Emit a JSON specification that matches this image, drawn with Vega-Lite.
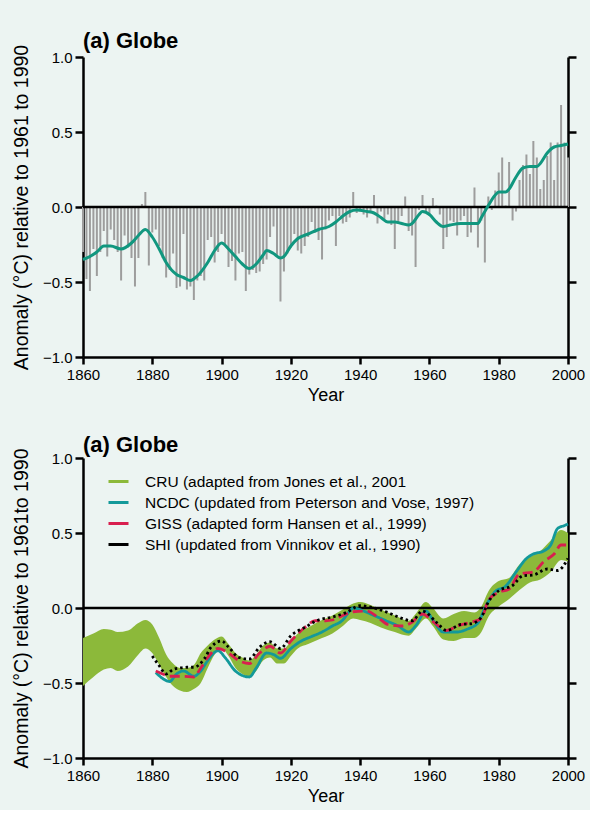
{
  "$schema": "https://vega.github.io/schema/vega-lite/v6.json",
  "background": "#ecf4f2",
  "padding": {"left": 11, "top": 30, "right": 5, "bottom": 5},
  "config": {
    "font": "Liberation Sans",
    "view": {"stroke": null},
    "axis": {
      "domainColor": "black", "domainWidth": 2.5, "tickColor": "black", "tickWidth": 2.5,
      "tickSize": 8, "labelColor": "black", "titleColor": "black", "grid": false,
      "labelFont": "Liberation Sans", "labelFontSize": 15, "titleFont": "Liberation Sans",
      "titleFontSize": 19.5, "titleFontWeight": "normal", "labelPadding": 3, "labelFlush": false
    },
    "title": {"font": "Liberation Sans", "fontSize": 22, "fontWeight": "bold", "anchor": "start", "color": "black", "frame": "group", "offset": -9},
    "concat": {"spacing": 30}
  },
  "resolve": {"scale": {"color": "independent"}, "legend": {"color": "independent"}},
  "datasets": {
    "bars": [
      {"year":1860,"anomaly":-0.30},{"year":1861,"anomaly":-0.48},{"year":1862,"anomaly":-0.56},{"year":1863,"anomaly":-0.28},{"year":1864,"anomaly":-0.46},
      {"year":1865,"anomaly":-0.30},{"year":1866,"anomaly":-0.16},{"year":1867,"anomaly":-0.33},{"year":1868,"anomaly":-0.15},{"year":1869,"anomaly":-0.22},
      {"year":1870,"anomaly":-0.30},{"year":1871,"anomaly":-0.49},{"year":1872,"anomaly":-0.19},{"year":1873,"anomaly":-0.27},{"year":1874,"anomaly":-0.34},
      {"year":1875,"anomaly":-0.53},{"year":1876,"anomaly":-0.34},{"year":1877,"anomaly":0.02},{"year":1878,"anomaly":0.10},{"year":1879,"anomaly":-0.39},
      {"year":1880,"anomaly":-0.17},{"year":1881,"anomaly":-0.15},{"year":1882,"anomaly":-0.26},{"year":1883,"anomaly":-0.34},{"year":1884,"anomaly":-0.47},
      {"year":1885,"anomaly":-0.42},{"year":1886,"anomaly":-0.31},{"year":1887,"anomaly":-0.54},{"year":1888,"anomaly":-0.53},{"year":1889,"anomaly":-0.18},
      {"year":1890,"anomaly":-0.55},{"year":1891,"anomaly":-0.53},{"year":1892,"anomaly":-0.62},{"year":1893,"anomaly":-0.49},{"year":1894,"anomaly":-0.46},
      {"year":1895,"anomaly":-0.49},{"year":1896,"anomaly":-0.22},{"year":1897,"anomaly":-0.20},{"year":1898,"anomaly":-0.37},{"year":1899,"anomaly":-0.30},
      {"year":1900,"anomaly":-0.18},{"year":1901,"anomaly":-0.26},{"year":1902,"anomaly":-0.40},{"year":1903,"anomaly":-0.36},{"year":1904,"anomaly":-0.49},
      {"year":1905,"anomaly":-0.31},{"year":1906,"anomaly":-0.30},{"year":1907,"anomaly":-0.56},{"year":1908,"anomaly":-0.45},{"year":1909,"anomaly":-0.42},
      {"year":1910,"anomaly":-0.44},{"year":1911,"anomaly":-0.43},{"year":1912,"anomaly":-0.38},{"year":1913,"anomaly":-0.35},{"year":1914,"anomaly":-0.20},
      {"year":1915,"anomaly":-0.13},{"year":1916,"anomaly":-0.33},{"year":1917,"anomaly":-0.63},{"year":1918,"anomaly":-0.43},{"year":1919,"anomaly":-0.31},
      {"year":1920,"anomaly":-0.27},{"year":1921,"anomaly":-0.18},{"year":1922,"anomaly":-0.29},{"year":1923,"anomaly":-0.31},{"year":1924,"anomaly":-0.26},
      {"year":1925,"anomaly":-0.20},{"year":1926,"anomaly":-0.10},{"year":1927,"anomaly":-0.17},{"year":1928,"anomaly":-0.22},{"year":1929,"anomaly":-0.35},
      {"year":1930,"anomaly":-0.15},{"year":1931,"anomaly":-0.09},{"year":1932,"anomaly":-0.06},{"year":1933,"anomaly":-0.26},{"year":1934,"anomaly":-0.06},
      {"year":1935,"anomaly":-0.11},{"year":1936,"anomaly":-0.10},{"year":1937,"anomaly":-0.07},{"year":1938,"anomaly":0.10},{"year":1939,"anomaly":-0.04},
      {"year":1940,"anomaly":-0.03},{"year":1941,"anomaly":-0.05},{"year":1942,"anomaly":-0.07},{"year":1943,"anomaly":-0.04},{"year":1944,"anomaly":0.08},
      {"year":1945,"anomaly":-0.11},{"year":1946,"anomaly":-0.03},{"year":1947,"anomaly":-0.08},{"year":1948,"anomaly":-0.05},{"year":1949,"anomaly":-0.12},
      {"year":1950,"anomaly":-0.28},{"year":1951,"anomaly":-0.10},{"year":1952,"anomaly":-0.06},{"year":1953,"anomaly":0.07},{"year":1954,"anomaly":-0.16},
      {"year":1955,"anomaly":-0.19},{"year":1956,"anomaly":-0.40},{"year":1957,"anomaly":-0.02},{"year":1958,"anomaly":0.08},{"year":1959,"anomaly":-0.04},
      {"year":1960,"anomaly":-0.06},{"year":1961,"anomaly":0.06},{"year":1962,"anomaly":0.01},{"year":1963,"anomaly":-0.05},{"year":1964,"anomaly":-0.28},
      {"year":1965,"anomaly":-0.20},{"year":1966,"anomaly":-0.09},{"year":1967,"anomaly":-0.10},{"year":1968,"anomaly":-0.19},{"year":1969,"anomaly":-0.09},
      {"year":1970,"anomaly":-0.06},{"year":1971,"anomaly":-0.20},{"year":1972,"anomaly":-0.17},{"year":1973,"anomaly":0.13},{"year":1974,"anomaly":-0.27},
      {"year":1975,"anomaly":-0.09},{"year":1976,"anomaly":-0.37},{"year":1977,"anomaly":0.07},{"year":1978,"anomaly":-0.02},{"year":1979,"anomaly":0.11},
      {"year":1980,"anomaly":0.23},{"year":1981,"anomaly":0.33},{"year":1982,"anomaly":0.01},{"year":1983,"anomaly":0.30},{"year":1984,"anomaly":-0.09},
      {"year":1985,"anomaly":-0.03},{"year":1986,"anomaly":0.18},{"year":1987,"anomaly":0.28},{"year":1988,"anomaly":0.35},{"year":1989,"anomaly":0.22},
      {"year":1990,"anomaly":0.44},{"year":1991,"anomaly":0.33},{"year":1992,"anomaly":0.12},{"year":1993,"anomaly":0.18},{"year":1994,"anomaly":0.34},
      {"year":1995,"anomaly":0.43},{"year":1996,"anomaly":0.18},{"year":1997,"anomaly":0.43},{"year":1998,"anomaly":0.68},{"year":1999,"anomaly":0.43},
      {"year":2000,"anomaly":0.33}
    ],
    "smooth": [
      {"year":1860,"value":-0.35},{"year":1862,"value":-0.33},{"year":1864,"value":-0.30},{"year":1866,"value":-0.26},{"year":1868,"value":-0.26},
      {"year":1871,"value":-0.28},{"year":1874,"value":-0.24},{"year":1876,"value":-0.19},{"year":1878,"value":-0.15},{"year":1880,"value":-0.20},
      {"year":1882,"value":-0.28},{"year":1884,"value":-0.37},{"year":1887,"value":-0.45},{"year":1889,"value":-0.47},{"year":1891,"value":-0.49},
      {"year":1893,"value":-0.46},{"year":1896,"value":-0.37},{"year":1898,"value":-0.29},{"year":1900,"value":-0.24},{"year":1902,"value":-0.28},
      {"year":1904,"value":-0.33},{"year":1906,"value":-0.38},{"year":1908,"value":-0.41},{"year":1910,"value":-0.38},{"year":1912,"value":-0.32},
      {"year":1913,"value":-0.29},{"year":1915,"value":-0.31},{"year":1917,"value":-0.34},{"year":1918,"value":-0.33},{"year":1920,"value":-0.26},
      {"year":1922,"value":-0.21},{"year":1925,"value":-0.18},{"year":1928,"value":-0.15},{"year":1931,"value":-0.13},{"year":1933,"value":-0.10},
      {"year":1935,"value":-0.06},{"year":1937,"value":-0.03},{"year":1939,"value":-0.02},{"year":1942,"value":-0.03},{"year":1944,"value":-0.04},
      {"year":1946,"value":-0.07},{"year":1948,"value":-0.10},{"year":1950,"value":-0.10},{"year":1952,"value":-0.11},{"year":1954,"value":-0.12},
      {"year":1955,"value":-0.11},{"year":1957,"value":-0.05},{"year":1958,"value":-0.03},{"year":1960,"value":-0.05},{"year":1962,"value":-0.10},
      {"year":1964,"value":-0.13},{"year":1966,"value":-0.12},{"year":1969,"value":-0.11},{"year":1972,"value":-0.11},{"year":1974,"value":-0.11},
      {"year":1975,"value":-0.07},{"year":1977,"value":0.01},{"year":1979,"value":0.08},{"year":1980,"value":0.10},{"year":1982,"value":0.10},
      {"year":1983,"value":0.12},{"year":1985,"value":0.20},{"year":1987,"value":0.26},{"year":1989,"value":0.27},{"year":1991,"value":0.27},
      {"year":1992,"value":0.29},{"year":1994,"value":0.36},{"year":1996,"value":0.40},{"year":1998,"value":0.41},{"year":2000,"value":0.42}
    ],
    "cru": [
      {"series":"CRU (adapted from Jones et al., 2001","year":1860,"lo":-0.52,"hi":-0.20},
      {"series":"CRU (adapted from Jones et al., 2001","year":1863,"lo":-0.46,"hi":-0.17},
      {"series":"CRU (adapted from Jones et al., 2001","year":1866,"lo":-0.41,"hi":-0.14},
      {"series":"CRU (adapted from Jones et al., 2001","year":1868,"lo":-0.40,"hi":-0.145},
      {"series":"CRU (adapted from Jones et al., 2001","year":1870,"lo":-0.42,"hi":-0.16},
      {"series":"CRU (adapted from Jones et al., 2001","year":1873,"lo":-0.39,"hi":-0.15},
      {"series":"CRU (adapted from Jones et al., 2001","year":1876,"lo":-0.31,"hi":-0.10},
      {"series":"CRU (adapted from Jones et al., 2001","year":1878,"lo":-0.27,"hi":-0.08},
      {"series":"CRU (adapted from Jones et al., 2001","year":1880,"lo":-0.30,"hi":-0.11},
      {"series":"CRU (adapted from Jones et al., 2001","year":1882,"lo":-0.38,"hi":-0.20},
      {"series":"CRU (adapted from Jones et al., 2001","year":1884,"lo":-0.46,"hi":-0.31},
      {"series":"CRU (adapted from Jones et al., 2001","year":1886,"lo":-0.52,"hi":-0.37},
      {"series":"CRU (adapted from Jones et al., 2001","year":1888,"lo":-0.55,"hi":-0.40},
      {"series":"CRU (adapted from Jones et al., 2001","year":1890,"lo":-0.56,"hi":-0.40},
      {"series":"CRU (adapted from Jones et al., 2001","year":1892,"lo":-0.54,"hi":-0.38},
      {"series":"CRU (adapted from Jones et al., 2001","year":1894,"lo":-0.50,"hi":-0.30},
      {"series":"CRU (adapted from Jones et al., 2001","year":1896,"lo":-0.40,"hi":-0.25},
      {"series":"CRU (adapted from Jones et al., 2001","year":1898,"lo":-0.31,"hi":-0.21},
      {"series":"CRU (adapted from Jones et al., 2001","year":1900,"lo":-0.27,"hi":-0.19},
      {"series":"CRU (adapted from Jones et al., 2001","year":1902,"lo":-0.32,"hi":-0.24},
      {"series":"CRU (adapted from Jones et al., 2001","year":1904,"lo":-0.40,"hi":-0.30},
      {"series":"CRU (adapted from Jones et al., 2001","year":1906,"lo":-0.44,"hi":-0.33},
      {"series":"CRU (adapted from Jones et al., 2001","year":1908,"lo":-0.46,"hi":-0.35},
      {"series":"CRU (adapted from Jones et al., 2001","year":1910,"lo":-0.42,"hi":-0.31},
      {"series":"CRU (adapted from Jones et al., 2001","year":1912,"lo":-0.35,"hi":-0.25},
      {"series":"CRU (adapted from Jones et al., 2001","year":1914,"lo":-0.33,"hi":-0.23},
      {"series":"CRU (adapted from Jones et al., 2001","year":1916,"lo":-0.37,"hi":-0.27},
      {"series":"CRU (adapted from Jones et al., 2001","year":1918,"lo":-0.37,"hi":-0.27},
      {"series":"CRU (adapted from Jones et al., 2001","year":1920,"lo":-0.32,"hi":-0.22},
      {"series":"CRU (adapted from Jones et al., 2001","year":1922,"lo":-0.27,"hi":-0.17},
      {"series":"CRU (adapted from Jones et al., 2001","year":1925,"lo":-0.24,"hi":-0.13},
      {"series":"CRU (adapted from Jones et al., 2001","year":1928,"lo":-0.21,"hi":-0.09},
      {"series":"CRU (adapted from Jones et al., 2001","year":1932,"lo":-0.17,"hi":-0.05},
      {"series":"CRU (adapted from Jones et al., 2001","year":1935,"lo":-0.12,"hi":-0.01},
      {"series":"CRU (adapted from Jones et al., 2001","year":1938,"lo":-0.07,"hi":0.03},
      {"series":"CRU (adapted from Jones et al., 2001","year":1940,"lo":-0.08,"hi":0.04},
      {"series":"CRU (adapted from Jones et al., 2001","year":1943,"lo":-0.10,"hi":0.02},
      {"series":"CRU (adapted from Jones et al., 2001","year":1946,"lo":-0.13,"hi":-0.01},
      {"series":"CRU (adapted from Jones et al., 2001","year":1950,"lo":-0.16,"hi":-0.05},
      {"series":"CRU (adapted from Jones et al., 2001","year":1954,"lo":-0.185,"hi":-0.085},
      {"series":"CRU (adapted from Jones et al., 2001","year":1956,"lo":-0.14,"hi":-0.04},
      {"series":"CRU (adapted from Jones et al., 2001","year":1959,"lo":-0.07,"hi":0.04},
      {"series":"CRU (adapted from Jones et al., 2001","year":1961,"lo":-0.12,"hi":0.00},
      {"series":"CRU (adapted from Jones et al., 2001","year":1964,"lo":-0.21,"hi":-0.07},
      {"series":"CRU (adapted from Jones et al., 2001","year":1967,"lo":-0.22,"hi":-0.04},
      {"series":"CRU (adapted from Jones et al., 2001","year":1970,"lo":-0.20,"hi":-0.02},
      {"series":"CRU (adapted from Jones et al., 2001","year":1973,"lo":-0.20,"hi":-0.03},
      {"series":"CRU (adapted from Jones et al., 2001","year":1975,"lo":-0.16,"hi":0.01},
      {"series":"CRU (adapted from Jones et al., 2001","year":1977,"lo":-0.06,"hi":0.11},
      {"series":"CRU (adapted from Jones et al., 2001","year":1980,"lo":0.01,"hi":0.18},
      {"series":"CRU (adapted from Jones et al., 2001","year":1983,"lo":0.06,"hi":0.20},
      {"series":"CRU (adapted from Jones et al., 2001","year":1986,"lo":0.12,"hi":0.29},
      {"series":"CRU (adapted from Jones et al., 2001","year":1989,"lo":0.17,"hi":0.34},
      {"series":"CRU (adapted from Jones et al., 2001","year":1992,"lo":0.19,"hi":0.38},
      {"series":"CRU (adapted from Jones et al., 2001","year":1995,"lo":0.24,"hi":0.45},
      {"series":"CRU (adapted from Jones et al., 2001","year":1998,"lo":0.32,"hi":0.52},
      {"series":"CRU (adapted from Jones et al., 2001","year":2000,"lo":0.31,"hi":0.50}
    ],
    "lines": [
      {"series":"NCDC (updated from Peterson and Vose, 1997)","year":1881,"value":-0.43},
      {"series":"NCDC (updated from Peterson and Vose, 1997)","year":1883,"value":-0.47},
      {"series":"NCDC (updated from Peterson and Vose, 1997)","year":1885,"value":-0.49},
      {"series":"NCDC (updated from Peterson and Vose, 1997)","year":1887,"value":-0.44},
      {"series":"NCDC (updated from Peterson and Vose, 1997)","year":1889,"value":-0.42},
      {"series":"NCDC (updated from Peterson and Vose, 1997)","year":1892,"value":-0.455},
      {"series":"NCDC (updated from Peterson and Vose, 1997)","year":1894,"value":-0.42},
      {"series":"NCDC (updated from Peterson and Vose, 1997)","year":1896,"value":-0.35},
      {"series":"NCDC (updated from Peterson and Vose, 1997)","year":1899,"value":-0.285},
      {"series":"NCDC (updated from Peterson and Vose, 1997)","year":1901,"value":-0.33},
      {"series":"NCDC (updated from Peterson and Vose, 1997)","year":1904,"value":-0.42},
      {"series":"NCDC (updated from Peterson and Vose, 1997)","year":1906,"value":-0.45},
      {"series":"NCDC (updated from Peterson and Vose, 1997)","year":1908,"value":-0.46},
      {"series":"NCDC (updated from Peterson and Vose, 1997)","year":1910,"value":-0.40},
      {"series":"NCDC (updated from Peterson and Vose, 1997)","year":1913,"value":-0.30},
      {"series":"NCDC (updated from Peterson and Vose, 1997)","year":1915,"value":-0.31},
      {"series":"NCDC (updated from Peterson and Vose, 1997)","year":1917,"value":-0.335},
      {"series":"NCDC (updated from Peterson and Vose, 1997)","year":1920,"value":-0.27},
      {"series":"NCDC (updated from Peterson and Vose, 1997)","year":1923,"value":-0.22},
      {"series":"NCDC (updated from Peterson and Vose, 1997)","year":1926,"value":-0.19},
      {"series":"NCDC (updated from Peterson and Vose, 1997)","year":1929,"value":-0.16},
      {"series":"NCDC (updated from Peterson and Vose, 1997)","year":1932,"value":-0.12},
      {"series":"NCDC (updated from Peterson and Vose, 1997)","year":1935,"value":-0.08},
      {"series":"NCDC (updated from Peterson and Vose, 1997)","year":1937,"value":-0.02},
      {"series":"NCDC (updated from Peterson and Vose, 1997)","year":1938,"value":0.0},
      {"series":"NCDC (updated from Peterson and Vose, 1997)","year":1941,"value":-0.02},
      {"series":"NCDC (updated from Peterson and Vose, 1997)","year":1944,"value":-0.05},
      {"series":"NCDC (updated from Peterson and Vose, 1997)","year":1947,"value":-0.08},
      {"series":"NCDC (updated from Peterson and Vose, 1997)","year":1951,"value":-0.12},
      {"series":"NCDC (updated from Peterson and Vose, 1997)","year":1954,"value":-0.16},
      {"series":"NCDC (updated from Peterson and Vose, 1997)","year":1956,"value":-0.12},
      {"series":"NCDC (updated from Peterson and Vose, 1997)","year":1959,"value":-0.02},
      {"series":"NCDC (updated from Peterson and Vose, 1997)","year":1961,"value":-0.08},
      {"series":"NCDC (updated from Peterson and Vose, 1997)","year":1964,"value":-0.16},
      {"series":"NCDC (updated from Peterson and Vose, 1997)","year":1968,"value":-0.16},
      {"series":"NCDC (updated from Peterson and Vose, 1997)","year":1971,"value":-0.14},
      {"series":"NCDC (updated from Peterson and Vose, 1997)","year":1974,"value":-0.10},
      {"series":"NCDC (updated from Peterson and Vose, 1997)","year":1976,"value":0.0},
      {"series":"NCDC (updated from Peterson and Vose, 1997)","year":1979,"value":0.11},
      {"series":"NCDC (updated from Peterson and Vose, 1997)","year":1982,"value":0.145},
      {"series":"NCDC (updated from Peterson and Vose, 1997)","year":1985,"value":0.24},
      {"series":"NCDC (updated from Peterson and Vose, 1997)","year":1988,"value":0.33},
      {"series":"NCDC (updated from Peterson and Vose, 1997)","year":1990,"value":0.36},
      {"series":"NCDC (updated from Peterson and Vose, 1997)","year":1993,"value":0.38},
      {"series":"NCDC (updated from Peterson and Vose, 1997)","year":1995,"value":0.42},
      {"series":"NCDC (updated from Peterson and Vose, 1997)","year":1997,"value":0.53},
      {"series":"NCDC (updated from Peterson and Vose, 1997)","year":1999,"value":0.55},
      {"series":"NCDC (updated from Peterson and Vose, 1997)","year":2000,"value":0.56},
      {"series":"GISS (adapted form Hansen et al., 1999)","year":1881,"value":-0.42},
      {"series":"GISS (adapted form Hansen et al., 1999)","year":1883,"value":-0.44},
      {"series":"GISS (adapted form Hansen et al., 1999)","year":1885,"value":-0.455},
      {"series":"GISS (adapted form Hansen et al., 1999)","year":1889,"value":-0.455},
      {"series":"GISS (adapted form Hansen et al., 1999)","year":1892,"value":-0.46},
      {"series":"GISS (adapted form Hansen et al., 1999)","year":1894,"value":-0.40},
      {"series":"GISS (adapted form Hansen et al., 1999)","year":1896,"value":-0.33},
      {"series":"GISS (adapted form Hansen et al., 1999)","year":1899,"value":-0.27},
      {"series":"GISS (adapted form Hansen et al., 1999)","year":1902,"value":-0.30},
      {"series":"GISS (adapted form Hansen et al., 1999)","year":1905,"value":-0.35},
      {"series":"GISS (adapted form Hansen et al., 1999)","year":1908,"value":-0.37},
      {"series":"GISS (adapted form Hansen et al., 1999)","year":1911,"value":-0.30},
      {"series":"GISS (adapted form Hansen et al., 1999)","year":1914,"value":-0.255},
      {"series":"GISS (adapted form Hansen et al., 1999)","year":1917,"value":-0.30},
      {"series":"GISS (adapted form Hansen et al., 1999)","year":1920,"value":-0.22},
      {"series":"GISS (adapted form Hansen et al., 1999)","year":1924,"value":-0.13},
      {"series":"GISS (adapted form Hansen et al., 1999)","year":1927,"value":-0.085},
      {"series":"GISS (adapted form Hansen et al., 1999)","year":1930,"value":-0.085},
      {"series":"GISS (adapted form Hansen et al., 1999)","year":1932,"value":-0.08},
      {"series":"GISS (adapted form Hansen et al., 1999)","year":1935,"value":-0.05},
      {"series":"GISS (adapted form Hansen et al., 1999)","year":1938,"value":-0.025},
      {"series":"GISS (adapted form Hansen et al., 1999)","year":1942,"value":-0.02},
      {"series":"GISS (adapted form Hansen et al., 1999)","year":1945,"value":-0.06},
      {"series":"GISS (adapted form Hansen et al., 1999)","year":1948,"value":-0.11},
      {"series":"GISS (adapted form Hansen et al., 1999)","year":1952,"value":-0.12},
      {"series":"GISS (adapted form Hansen et al., 1999)","year":1955,"value":-0.095},
      {"series":"GISS (adapted form Hansen et al., 1999)","year":1958,"value":-0.04},
      {"series":"GISS (adapted form Hansen et al., 1999)","year":1961,"value":-0.09},
      {"series":"GISS (adapted form Hansen et al., 1999)","year":1965,"value":-0.15},
      {"series":"GISS (adapted form Hansen et al., 1999)","year":1968,"value":-0.12},
      {"series":"GISS (adapted form Hansen et al., 1999)","year":1972,"value":-0.095},
      {"series":"GISS (adapted form Hansen et al., 1999)","year":1975,"value":-0.07},
      {"series":"GISS (adapted form Hansen et al., 1999)","year":1977,"value":0.05},
      {"series":"GISS (adapted form Hansen et al., 1999)","year":1980,"value":0.105},
      {"series":"GISS (adapted form Hansen et al., 1999)","year":1983,"value":0.127},
      {"series":"GISS (adapted form Hansen et al., 1999)","year":1986,"value":0.227},
      {"series":"GISS (adapted form Hansen et al., 1999)","year":1990,"value":0.24},
      {"series":"GISS (adapted form Hansen et al., 1999)","year":1993,"value":0.31},
      {"series":"GISS (adapted form Hansen et al., 1999)","year":1996,"value":0.36},
      {"series":"GISS (adapted form Hansen et al., 1999)","year":1998,"value":0.42},
      {"series":"GISS (adapted form Hansen et al., 1999)","year":2000,"value":0.42},
      {"series":"SHI (updated from Vinnikov et al., 1990)","year":1880,"value":-0.32},
      {"series":"SHI (updated from Vinnikov et al., 1990)","year":1882,"value":-0.385},
      {"series":"SHI (updated from Vinnikov et al., 1990)","year":1884,"value":-0.44},
      {"series":"SHI (updated from Vinnikov et al., 1990)","year":1886,"value":-0.41},
      {"series":"SHI (updated from Vinnikov et al., 1990)","year":1888,"value":-0.40},
      {"series":"SHI (updated from Vinnikov et al., 1990)","year":1890,"value":-0.395},
      {"series":"SHI (updated from Vinnikov et al., 1990)","year":1892,"value":-0.395},
      {"series":"SHI (updated from Vinnikov et al., 1990)","year":1895,"value":-0.34},
      {"series":"SHI (updated from Vinnikov et al., 1990)","year":1897,"value":-0.26},
      {"series":"SHI (updated from Vinnikov et al., 1990)","year":1900,"value":-0.22},
      {"series":"SHI (updated from Vinnikov et al., 1990)","year":1902,"value":-0.26},
      {"series":"SHI (updated from Vinnikov et al., 1990)","year":1905,"value":-0.33},
      {"series":"SHI (updated from Vinnikov et al., 1990)","year":1908,"value":-0.34},
      {"series":"SHI (updated from Vinnikov et al., 1990)","year":1911,"value":-0.26},
      {"series":"SHI (updated from Vinnikov et al., 1990)","year":1914,"value":-0.225},
      {"series":"SHI (updated from Vinnikov et al., 1990)","year":1917,"value":-0.27},
      {"series":"SHI (updated from Vinnikov et al., 1990)","year":1920,"value":-0.185},
      {"series":"SHI (updated from Vinnikov et al., 1990)","year":1924,"value":-0.13},
      {"series":"SHI (updated from Vinnikov et al., 1990)","year":1928,"value":-0.08},
      {"series":"SHI (updated from Vinnikov et al., 1990)","year":1932,"value":-0.06},
      {"series":"SHI (updated from Vinnikov et al., 1990)","year":1936,"value":-0.03},
      {"series":"SHI (updated from Vinnikov et al., 1990)","year":1940,"value":0.015},
      {"series":"SHI (updated from Vinnikov et al., 1990)","year":1944,"value":0.0},
      {"series":"SHI (updated from Vinnikov et al., 1990)","year":1948,"value":-0.03},
      {"series":"SHI (updated from Vinnikov et al., 1990)","year":1951,"value":-0.06},
      {"series":"SHI (updated from Vinnikov et al., 1990)","year":1955,"value":-0.085},
      {"series":"SHI (updated from Vinnikov et al., 1990)","year":1958,"value":-0.02},
      {"series":"SHI (updated from Vinnikov et al., 1990)","year":1962,"value":-0.095},
      {"series":"SHI (updated from Vinnikov et al., 1990)","year":1965,"value":-0.15},
      {"series":"SHI (updated from Vinnikov et al., 1990)","year":1969,"value":-0.11},
      {"series":"SHI (updated from Vinnikov et al., 1990)","year":1972,"value":-0.105},
      {"series":"SHI (updated from Vinnikov et al., 1990)","year":1975,"value":-0.06},
      {"series":"SHI (updated from Vinnikov et al., 1990)","year":1977,"value":0.04},
      {"series":"SHI (updated from Vinnikov et al., 1990)","year":1980,"value":0.115},
      {"series":"SHI (updated from Vinnikov et al., 1990)","year":1984,"value":0.15},
      {"series":"SHI (updated from Vinnikov et al., 1990)","year":1987,"value":0.215},
      {"series":"SHI (updated from Vinnikov et al., 1990)","year":1990,"value":0.22},
      {"series":"SHI (updated from Vinnikov et al., 1990)","year":1994,"value":0.26},
      {"series":"SHI (updated from Vinnikov et al., 1990)","year":1997,"value":0.25},
      {"series":"SHI (updated from Vinnikov et al., 1990)","year":2000,"value":0.33}
    ]
  },
  "vconcat": [
    {
      "width": 485, "height": 300,
      "title": {"text": "(a) Globe"},
      "resolve": {"axis": {"y": "independent"}},
      "layer": [
        {
          "data": {"name": "bars"},
          "mark": {"type": "rule", "color": "#9d9d9d", "strokeWidth": 2},
          "encoding": {
            "x": {"field": "year", "type": "quantitative", "scale": {"domain": [1860, 2000], "nice": false, "zero": false},
                  "axis": {"values": [1860,1870,1880,1890,1900,1910,1920,1930,1940,1950,1960,1970,1980,1990,2000], "format": "d",
                           "labelExpr": "datum.value % 20 == 0 ? datum.label : ''", "title": "Year", "titleFontSize": 18, "tickSize": 7, "titlePadding": 4}},
            "y": {"field": "anomaly", "type": "quantitative", "scale": {"domain": [-1, 1], "nice": false},
                  "axis": {"orient": "left", "values": [-1, -0.5, 0, 0.5, 1], "format": ".1f", "title": "Anomaly (°C) relative to 1961 to 1990", "titlePadding": 11}},
            "y2": {"datum": 0}
          }
        },
        {
          "data": {"values": [{"v": 0}]},
          "mark": {"type": "rule", "color": "black", "strokeWidth": 2.5},
          "encoding": {"y": {"datum": 0, "type": "quantitative", "axis": null}}
        },
        {
          "data": {"name": "smooth"},
          "mark": {"type": "line", "color": "#11977f", "strokeWidth": 3, "interpolate": "monotone"},
          "encoding": {
            "x": {"field": "year", "type": "quantitative"},
            "y": {"field": "value", "type": "quantitative",
                  "axis": {"orient": "right", "values": [-1, -0.5, 0, 0.5, 1], "labels": false, "title": null}}
          }
        }
      ]
    },
    {
      "width": 485, "height": 300,
      "title": {"text": "(a) Globe"},
      "resolve": {"axis": {"y": "independent"}},
      "layer": [
        {
          "data": {"name": "cru"},
          "mark": {"type": "area", "interpolate": "monotone", "opacity": 1},
          "encoding": {
            "x": {"field": "year", "type": "quantitative", "scale": {"domain": [1860, 2000], "nice": false, "zero": false},
                  "axis": {"values": [1860,1870,1880,1890,1900,1910,1920,1930,1940,1950,1960,1970,1980,1990,2000], "format": "d",
                           "labelExpr": "datum.value % 20 == 0 ? datum.label : ''", "title": "Year", "titleFontSize": 18, "tickSize": 7, "titlePadding": 4}},
            "y": {"field": "lo", "type": "quantitative", "scale": {"domain": [-1, 1], "nice": false},
                  "axis": {"orient": "left", "values": [-1, -0.5, 0, 0.5, 1], "format": ".1f", "title": "Anomaly (°C) relative to 1961to 1990", "titlePadding": 11}},
            "y2": {"field": "hi"},
            "color": {
              "field": "series", "type": "nominal",
              "scale": {"domain": ["CRU (adapted from Jones et al., 2001", "NCDC (updated from Peterson and Vose, 1997)", "GISS (adapted form Hansen et al., 1999)", "SHI (updated from Vinnikov et al., 1990)"],
                        "range": ["#8cb93a", "#13999a", "#d81f4f", "#000000"]},
              "legend": {
                "title": null, "orient": "none", "legendX": 24, "legendY": 12, "padding": 0,
                "symbolType": "stroke", "symbolSize": 400, "symbolStrokeWidth": 3,
                "labelFontSize": 15.5, "labelFont": "Liberation Sans", "labelColor": "black",
                "labelOffset": 15, "rowPadding": 1, "labelLimit": 500
              }
            }
          }
        },
        {
          "data": {"values": [{"v": 0}]},
          "mark": {"type": "rule", "color": "black", "strokeWidth": 2.5},
          "encoding": {"y": {"datum": 0, "type": "quantitative", "axis": null}}
        },
        {
          "data": {"name": "lines"},
          "mark": {"type": "line", "strokeWidth": 2.8, "interpolate": "monotone"},
          "encoding": {
            "x": {"field": "year", "type": "quantitative"},
            "y": {"field": "value", "type": "quantitative",
                  "axis": {"orient": "right", "values": [-1, -0.5, 0, 0.5, 1], "labels": false, "title": null}},
            "color": {"field": "series", "type": "nominal", "legend": null},
            "strokeDash": {"field": "series", "type": "nominal",
                           "scale": {"domain": ["NCDC (updated from Peterson and Vose, 1997)", "GISS (adapted form Hansen et al., 1999)", "SHI (updated from Vinnikov et al., 1990)"],
                                     "range": [[1, 0], [10, 5], [2.5, 3]]},
                           "legend": null}
          }
        }
      ]
    }
  ]
}
